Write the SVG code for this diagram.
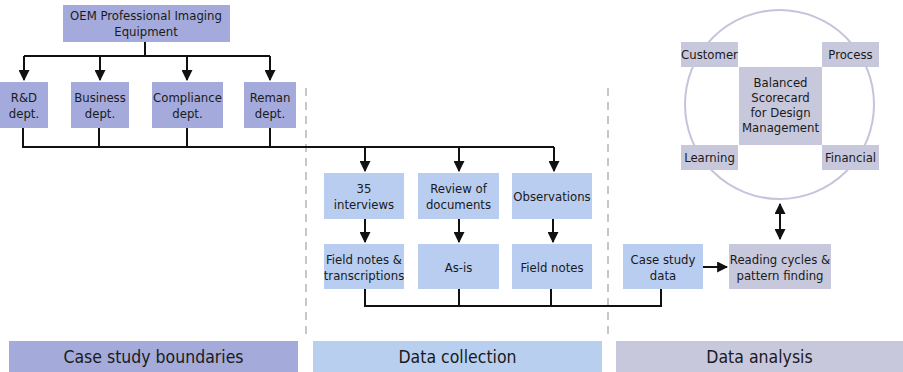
<svg xmlns="http://www.w3.org/2000/svg" width="903" height="372" viewBox="0 0 903 372">
<style>
  text { font-family: "DejaVu Sans Condensed", "Liberation Sans", sans-serif; font-size: 13px; fill: #1a1a1a; text-anchor: middle; }
  .band text { font-size: 17.5px; }
  .org { fill: #a4aadb; }
  .col { fill: #b8cdef; }
  .ana { fill: #c8c8dd; }
  .wire { fill: none; stroke: #111; stroke-width: 2; }
  .sep { stroke: #aaaaaa; stroke-width: 1.3; stroke-dasharray: 8 6; }
</style>
<defs>
  <marker id="arr" viewBox="0 0 10 10" refX="9" refY="5" markerWidth="5.5" markerHeight="5.5" orient="auto-start-reverse">
    <path d="M0,0 L10,5 L0,10 z" fill="#111"/>
  </marker>
</defs>
<rect width="903" height="372" fill="#ffffff"/>

<!-- phase separators -->
<g id="separators">
  <line class="sep" x1="306" y1="88" x2="306" y2="338"/>
  <line class="sep" x1="608" y1="88" x2="608" y2="338"/>
</g>

<!-- balanced scorecard ring -->
<circle cx="779.5" cy="104.5" r="94.5" fill="none" stroke="#c4c4dc" stroke-width="2"/>

<!-- connectors -->
<g id="connectors">
  <path class="wire" d="M145,42 V56 M24,56 H270"/>
  <path class="wire" d="M24,56 V80" marker-end="url(#arr)"/>
  <path class="wire" d="M100,56 V80" marker-end="url(#arr)"/>
  <path class="wire" d="M187,56 V80" marker-end="url(#arr)"/>
  <path class="wire" d="M270,56 V80" marker-end="url(#arr)"/>
  <path class="wire" d="M23,128 V147 H554 M99,128 V147 M187,128 V147 M270,128 V147"/>
  <path class="wire" d="M365,147 V171" marker-end="url(#arr)"/>
  <path class="wire" d="M459,147 V171" marker-end="url(#arr)"/>
  <path class="wire" d="M554,147 V171" marker-end="url(#arr)"/>
  <path class="wire" d="M365,219 V242" marker-end="url(#arr)"/>
  <path class="wire" d="M459,219 V242" marker-end="url(#arr)"/>
  <path class="wire" d="M553,219 V242" marker-end="url(#arr)"/>
  <path class="wire" d="M365,289 V306 H661 V289 M459,289 V306 M551,289 V306"/>
  <path class="wire" d="M703,267 H727" marker-end="url(#arr)"/>
  <path class="wire" d="M780,204 V239" marker-start="url(#arr)" marker-end="url(#arr)"/>
</g>

<!-- case study boundaries -->
<g id="oem"><rect class="org" x="63" y="5" width="167" height="37"/><text x="146" y="20">OEM Professional Imaging</text><text x="146" y="36">Equipment</text></g>
<g id="rnd"><rect class="org" x="0" y="82" width="48" height="46"/><text x="24" y="102">R&amp;D</text><text x="24" y="118">dept.</text></g>
<g id="business"><rect class="org" x="71" y="82" width="58" height="46"/><text x="100" y="102">Business</text><text x="100" y="118">dept.</text></g>
<g id="compliance"><rect class="org" x="152" y="82" width="71" height="46"/><text x="187.5" y="102">Compliance</text><text x="187.5" y="118">dept.</text></g>
<g id="reman"><rect class="org" x="244" y="82" width="52" height="46"/><text x="270" y="102">Reman</text><text x="270" y="118">dept.</text></g>

<!-- data collection -->
<g id="interviews"><rect class="col" x="324" y="173" width="80" height="46"/><text x="364" y="193">35</text><text x="364" y="209">interviews</text></g>
<g id="review"><rect class="col" x="418" y="173" width="81" height="46"/><text x="458.5" y="193">Review of</text><text x="458.5" y="209">documents</text></g>
<g id="observations"><rect class="col" x="512" y="173" width="80" height="46"/><text x="552" y="201">Observations</text></g>
<g id="fieldnotes-trans"><rect class="col" x="324" y="244" width="80" height="45"/><text x="364" y="264">Field notes &amp;</text><text x="364" y="280">transcriptions</text></g>
<g id="asis"><rect class="col" x="418" y="244" width="81" height="45"/><text x="458.5" y="272">As-is</text></g>
<g id="fieldnotes"><rect class="col" x="512" y="244" width="80" height="45"/><text x="552" y="272">Field notes</text></g>

<!-- data analysis -->
<g id="casedata"><rect class="col" x="623" y="244" width="80" height="45"/><text x="663" y="264">Case study</text><text x="663" y="280">data</text></g>
<g id="reading"><rect class="ana" x="729" y="244" width="102" height="45"/><text x="780" y="264">Reading cycles &amp;</text><text x="780" y="280">pattern finding</text></g>
<g id="customer"><rect class="ana" x="681" y="42" width="57" height="25"/><text x="709.5" y="59">Customer</text></g>
<g id="process"><rect class="ana" x="822" y="42" width="57" height="25"/><text x="850.5" y="59">Process</text></g>
<g id="learning"><rect class="ana" x="681" y="145" width="57" height="25"/><text x="709.5" y="162">Learning</text></g>
<g id="financial"><rect class="ana" x="822" y="145" width="57" height="25"/><text x="850.5" y="162">Financial</text></g>
<g id="scorecard"><rect class="ana" x="739" y="67" width="83" height="78"/><text x="780.5" y="87">Balanced</text><text x="780.5" y="102">Scorecard</text><text x="780.5" y="117">for Design</text><text x="780.5" y="132">Management</text></g>

<!-- phase bands -->
<g class="band" id="band-boundaries"><rect x="9" y="341" width="289" height="31" fill="#a4aad9"/><text x="153.5" y="363">Case study boundaries</text></g>
<g class="band" id="band-collection"><rect x="313" y="341" width="289" height="31" fill="#b9cff0"/><text x="457.5" y="363">Data collection</text></g>
<g class="band" id="band-analysis"><rect x="616" y="341" width="287" height="31" fill="#c8c8dd"/><text x="759.5" y="363">Data analysis</text></g>
</svg>
